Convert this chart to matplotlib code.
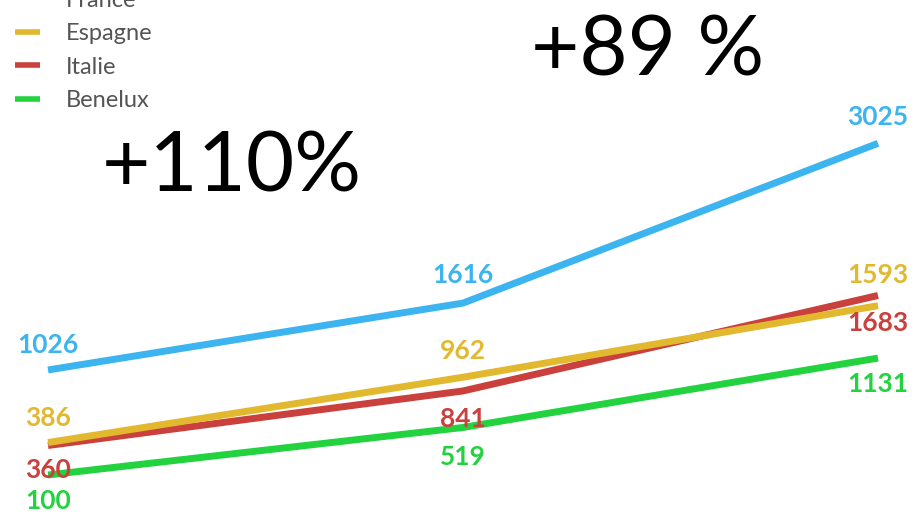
import matplotlib.pyplot as plt

periods = [0, 1, 2]
countries = ["France", "Espagne", "Italie", "Benelux"]
france = [1026, 1616, 3025]
espagne = [386, 962, 1593]
italie = [360, 841, 1683]
benelux = [100, 519, 1131]
colors = ["#3bb4f0", "#e2b92e", "#c9403d", "#22d33f"]
# label offset (points) above (+) or below (-) each point
offsets = {
    "France": [18, 20, 19],
    "Espagne": [18, 19, 22],
    "Italie": [-18, -20, -20],
    "Benelux": [-19, -21, -19],
}
growth_labels = ["+110%", "+89 %"]

series = [france, espagne, italie, benelux]

fig = plt.figure(figsize=(9.17, 5.15), dpi=100)
ax = fig.add_axes([0, 0, 1, 1])
ax.set_xlim(-0.1157, 2.094)
ax.set_ylim(-253, 4289)
ax.axis("off")

# draw in reverse so France sits on top, like the original
for name, vals, c in reversed(list(zip(countries, series, colors))):
    ax.plot(periods, vals, color=c, lw=5, solid_capstyle="butt", label=name)

for name, vals, c in zip(countries, series, colors):
    for x, v, off in zip(periods, vals, offsets[name]):
        ax.annotate(str(v), (x, v), xytext=(0, off), textcoords="offset points",
                    ha="center", va="center", color=c, fontsize=19,
                    fontweight="bold", family="Lato")

handles, labels = ax.get_legend_handles_labels()
handles = handles[::-1]
labels = labels[::-1]
leg = ax.legend(handles, labels, loc="upper left", bbox_to_anchor=(15 / 917, 1.02),
                frameon=False, fontsize=17, handlelength=1.05, handletextpad=1.1,
                labelspacing=0.53, borderpad=0, borderaxespad=0)
for t in leg.get_texts():
    t.set_color("#555555")
    t.set_family("Lato")
for h in leg.get_lines():
    h.set_linewidth(4)

fig.text(232 / 917, 1 - 168 / 515, growth_labels[0], ha="center", va="center",
         fontsize=60, family="Lato", color="black")
fig.text(648 / 917, 1 - 53 / 515, growth_labels[1], ha="center", va="center",
         fontsize=60, family="Lato", color="black")

fig.savefig("out.png", dpi=100)
